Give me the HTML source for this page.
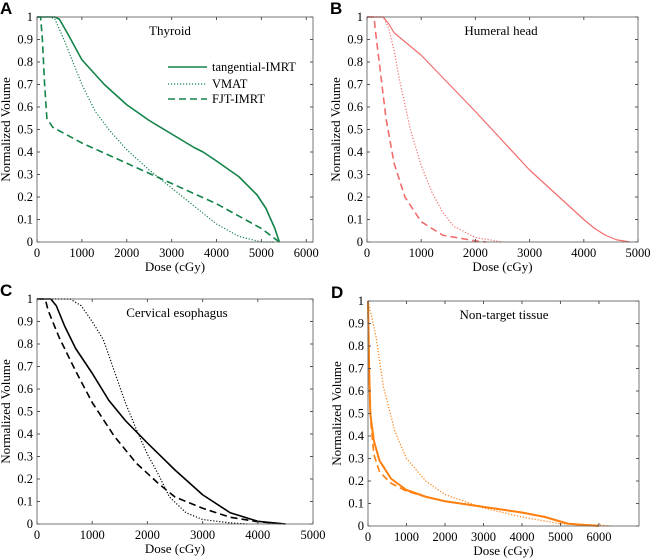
<!DOCTYPE html>
<html><head><meta charset="utf-8"><style>
body{margin:0;background:#fff}
svg{display:block;font-family:"Liberation Serif",serif}
.pl{font-family:"Liberation Sans",sans-serif;font-weight:bold;font-size:17px}
</style></head><body>
<svg id="fig" width="650" height="559" viewBox="0 0 650 559"></svg>
<script>
const NS="http://www.w3.org/2000/svg";
// Panel A: Thyroid
const aTangDose=[0,400,500,700,1000,1500,2000,2500,3000,3500,3700,4000,4500,4900,5100,5300,5400];
const aTangVol=[1,1,0.99,0.92,0.81,0.70,0.61,0.54,0.48,0.42,0.40,0.36,0.29,0.21,0.15,0.06,0];
const aVmatDose=[0,300,400,600,800,1000,1300,1600,2000,2500,3000,3500,4000,4500,5000,5300];
const aVmatVol=[1,1,0.99,0.90,0.80,0.70,0.58,0.50,0.41,0.32,0.24,0.16,0.08,0.025,0,0];
const aFjtDose=[0,80,120,170,220,350,1000,2000,3000,4000,5000,5400];
const aFjtVol=[1,1,0.9,0.7,0.55,0.51,0.44,0.35,0.26,0.17,0.06,0];
// Panel B: Humeral head
const bTangDose=[0,300,400,500,700,1000,2000,3000,4000,4200,4400,4600,4850];
const bTangVol=[1,1,0.97,0.93,0.89,0.83,0.58,0.32,0.1,0.06,0.03,0.01,0];
const bVmatDose=[0,300,400,500,600,800,1000,1200,1400,1600,2000,2500];
const bVmatVol=[1,1,0.95,0.85,0.72,0.50,0.34,0.22,0.13,0.07,0.02,0];
const bFjtDose=[0,130,150,250,350,500,700,1000,1400,2000,2200];
const bFjtVol=[1,1,0.95,0.75,0.55,0.35,0.2,0.09,0.03,0.005,0];
// Panel C: Cervical esophagus
const cTangDose=[0,250,350,500,700,1000,1300,1600,2000,2500,3000,3500,4000,4500];
const cTangVol=[1,1,0.97,0.88,0.78,0.67,0.55,0.46,0.36,0.24,0.13,0.05,0.012,0];
const cVmatDose=[0,600,800,1000,1200,1400,1600,1800,2000,2200,2400,2700,3000,3500,3800];
const cVmatVol=[1,1,0.97,0.90,0.82,0.68,0.54,0.42,0.31,0.22,0.12,0.05,0.02,0.005,0];
const cFjtDose=[0,150,200,400,700,1000,1400,1800,2200,2500,3000,3500,4000,4500];
const cFjtVol=[1,1,0.95,0.83,0.68,0.54,0.39,0.27,0.18,0.12,0.07,0.03,0.01,0];
// Panel D: Non-target tissue
const dTangDose=[0,30,60,150,300,600,1000,1500,2000,3000,4000,4600,5200,6000];
const dTangVol=[1,0.7,0.5,0.38,0.29,0.21,0.16,0.13,0.11,0.085,0.06,0.04,0.01,0];
const dVmatDose=[0,200,400,700,1000,1500,2000,3000,4000,5000,6000,6300];
const dVmatVol=[1,0.85,0.62,0.42,0.30,0.2,0.14,0.08,0.04,0.01,0.005,0];
const dFjtDose=[0,30,80,150,300,600,1000,1500,2000,3000,4000,4600,5200,6000];
const dFjtVol=[1,0.65,0.45,0.32,0.24,0.19,0.155,0.13,0.11,0.085,0.06,0.04,0.01,0];
const yTicks=[0,0.1,0.2,0.3,0.4,0.5,0.6,0.7,0.8,0.9,1];
const xTicks6=[0,1000,2000,3000,4000,5000,6000];
const xTicks5=[0,1000,2000,3000,4000,5000];

const svg=document.getElementById('fig');
function mk(tag,attrs,parent,text){const e=document.createElementNS(NS,tag);for(const k in attrs)e.setAttribute(k,attrs[k]);if(text!==undefined)e.textContent=text;(parent||svg).appendChild(e);return e;}
const dashes={solid:'',dot:'1.2 1.8',dash:'7 4'};
function panel(cfg){
  const g=mk('g',{});
  
  
  const {L,R,T,B,xmax}=cfg;
  const xs=v=>L+v/xmax*(R-L), ys=v=>B-v*(B-T);
  const lbl=mk('text',{x:L-37,y:T-3,class:'pl'},g,cfg.letter);
  
  cfg.series.forEach(s=>{
    const p=mk('polyline',{points:s.d.map((d,i)=>xs(d)+','+ys(s.v[i])).join(' '),fill:'none',stroke:cfg.color,'stroke-width':s.w||1.6,'stroke-dasharray':dashes[s.style],'stroke-linejoin':'round'},g);
    
  });
  const box=mk('rect',{x:L,y:T,width:R-L,height:B-T,fill:'none',stroke:'#555','stroke-width':0.8},g);
  
  yTicks.forEach(t=>{
    const y=ys(t);
    mk('line',{x1:L,x2:L+3,y1:y,y2:y,stroke:'#555'},g);mk('line',{x1:R,x2:R-3,y1:y,y2:y,stroke:'#555'},g);
    const tx=mk('text',{x:L-4,y:y+4,'text-anchor':'end','font-size':12.5},g,String(t));
    
  });
  cfg.xt.forEach(t=>{
    const x=xs(t);
    mk('line',{x1:x,x2:x,y1:B,y2:B-3,stroke:'#555'},g);mk('line',{x1:x,x2:x,y1:T,y2:T+3,stroke:'#555'},g);
    const tx=mk('text',{x:x,y:B+15,'text-anchor':'middle','font-size':12.5},g,String(t));
    
  });
  const xl=mk('text',{x:(L+R)/2,y:B+29,'text-anchor':'middle','font-size':13},g,'Dose (cGy)');
  
  const yl=mk('text',{x:0,y:0,'text-anchor':'middle','font-size':13,transform:`translate(${L-27},${(T+B)/2}) rotate(-90)`},g,'Normalized Volume');
  
  const ti=mk('text',{x:cfg.tx,y:T+18,'text-anchor':'middle','font-size':13},g,cfg.title);
  
  return g;
}
const gA=panel({name:'panel-a-thyroid',letter:'A',L:37,R:313,T:17,B:242,xmax:6150,xt:xTicks6,color:'#13834a',title:'Thyroid',tx:170,
 series:[{n:'tangential-imrt-line',d:aTangDose,v:aTangVol,style:'solid'},{n:'vmat-line',d:aVmatDose,v:aVmatVol,style:'dot',w:1.2},{n:'fjt-imrt-line',d:aFjtDose,v:aFjtVol,style:'dash'}]});
panel({name:'panel-b-humeral-head',letter:'B',L:367,R:638,T:17,B:242,xmax:5000,xt:xTicks5,color:'#f26d6d',title:'Humeral head',tx:501,
 series:[{n:'tangential-imrt-line',d:bTangDose,v:bTangVol,style:'solid',w:1.2},{n:'vmat-line',d:bVmatDose,v:bVmatVol,style:'dot',w:1.2},{n:'fjt-imrt-line',d:bFjtDose,v:bFjtVol,style:'dash'}]});
panel({name:'panel-c-cervical-esophagus',letter:'C',L:37,R:313,T:299,B:524,xmax:5000,xt:xTicks5,color:'#000',title:'Cervical esophagus',tx:177,
 series:[{n:'tangential-imrt-line',d:cTangDose,v:cTangVol,style:'solid'},{n:'vmat-line',d:cVmatDose,v:cVmatVol,style:'dot',w:1.2},{n:'fjt-imrt-line',d:cFjtDose,v:cFjtVol,style:'dash'}]});
panel({name:'panel-d-non-target-tissue',letter:'D',L:368,R:639,T:301,B:526,xmax:7040,xt:xTicks6,color:'#ff7f0e',title:'Non-target tissue',tx:504,
 series:[{n:'tangential-imrt-line',d:dTangDose,v:dTangVol,style:'solid',w:2},{n:'vmat-line',d:dVmatDose,v:dVmatVol,style:'dot',w:1.2},{n:'fjt-imrt-line',d:dFjtDose,v:dFjtVol,style:'dash'}]});
// legend in panel A
const leg=mk('g',{},gA);


[['tangential-IMRT','solid',67],['VMAT','dot',84],['FJT-IMRT','dash',99]].forEach(([t,s,y])=>{
  mk('line',{x1:168,x2:207,y1:y,y2:y,stroke:'#13834a','stroke-width':s==='dot'?1.2:1.6,'stroke-dasharray':dashes[s]},leg);
  const tx=mk('text',{x:212,y:y+4,'font-size':12.5},leg,t);
  
  
});
</script>
</body></html>
